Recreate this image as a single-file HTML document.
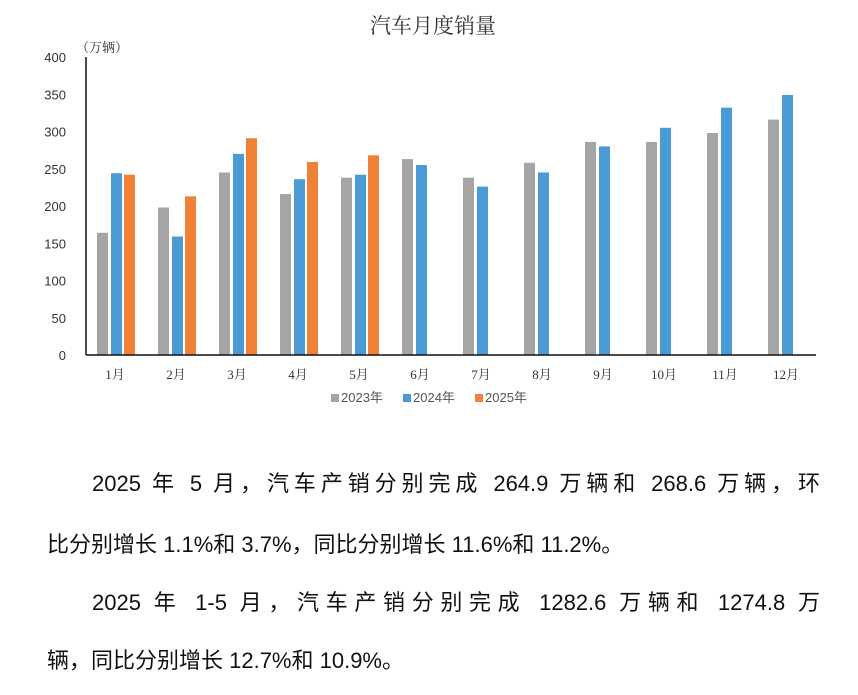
<!DOCTYPE html>
<html><head><meta charset="utf-8">
<style>
body{margin:0;width:858px;height:695px;background:#fff;position:relative;overflow:hidden;font-family:"Liberation Sans","Noto Sans CJK SC",sans-serif;}
.p{position:absolute;font-size:22px;color:#111;white-space:nowrap;}
.j{text-align:justify;text-align-last:justify;white-space:normal;}
</style></head><body>
<svg width="858" height="420" style="position:absolute;left:0;top:0" id="chart">
<text x="433" y="33" text-anchor="middle" font-size="21" font-family="Noto Serif CJK SC, serif" fill="#333">汽车月度销量</text>
<text x="76" y="52" font-size="13" font-family="Noto Serif CJK SC, serif" fill="#333">（万辆）</text>
<g id="yticks"></g><g id="bars"></g><g id="xlabels"></g>
<line x1="86" y1="57" x2="86" y2="355" stroke="#111" stroke-width="1.5"/>
<line x1="86" y1="355" x2="816" y2="355" stroke="#111" stroke-width="1.5"/>
<g font-size="13" fill="#555">
<rect x="331" y="394" width="8" height="8" fill="#a5a5a5"/><text x="341" y="402">2023年</text>
<rect x="403" y="394" width="8" height="8" fill="#4a9ad6"/><text x="413" y="402">2024年</text>
<rect x="475" y="394" width="8" height="8" fill="#f08237"/><text x="485" y="402">2025年</text>
</g>
</svg>
<div class="p j" style="left:92px;top:466px;width:728px">2025 年 5 月，汽车产销分别完成 264.9 万辆和 268.6 万辆，环</div>
<div class="p" style="left:47px;top:527px">比分别增长 1.1%和 3.7%，同比分别增长 11.6%和 11.2%。</div>
<div class="p j" style="left:92px;top:585px;width:728px">2025 年 1-5 月，汽车产销分别完成 1282.6 万辆和 1274.8 万</div>
<div class="p" style="left:47px;top:643px">辆，同比分别增长 12.7%和 10.9%。</div>
<script>
const months=["1月","2月","3月","4月","5月","6月","7月","8月","9月","10月","11月","12月"];
const s2023=[164,198,245,216,238,263,238,258,286,286,298,316];
const s2024=[244,159,270,236,242,255,226,245,280,305,332,349];
const s2025=[242,213,291,259,268];
const yTicks=[0,50,100,150,200,250,300,350,400];
const NS="http://www.w3.org/2000/svg";
const y=v=>355-v*(298/400);
const xc=i=>115+i*61.0;
const yt=document.getElementById('yticks'),bg=document.getElementById('bars'),xl=document.getElementById('xlabels');
yTicks.forEach(t=>{const e=document.createElementNS(NS,'text');


e.setAttribute('x',66);e.setAttribute('y',y(t)+5);e.setAttribute('text-anchor','end');e.setAttribute('font-size','13');e.setAttribute('font-family','Liberation Sans, sans-serif');e.setAttribute('fill','#333');e.textContent=t;yt.appendChild(e);});
function bar(v,i,off,col,name){const r=document.createElementNS(NS,'rect');


r.setAttribute('x',xc(i)+off);r.setAttribute('y',y(v));r.setAttribute('width',11);r.setAttribute('height',355-y(v));r.setAttribute('fill',col);bg.appendChild(r);}
s2023.forEach((v,i)=>bar(v,i,-18,'#a5a5a5','bar-2023'));
s2024.forEach((v,i)=>bar(v,i,-4,'#4a9ad6','bar-2024'));
s2025.forEach((v,i)=>bar(v,i,9,'#f08237','bar-2025'));
months.forEach((m,i)=>{const e=document.createElementNS(NS,'text');


e.setAttribute('x',xc(i));e.setAttribute('y',379);e.setAttribute('text-anchor','middle');e.setAttribute('font-size','13');e.setAttribute('font-family','Liberation Serif, Noto Serif CJK SC, serif');e.setAttribute('fill','#333');e.textContent=m;xl.appendChild(e);});
</script>
</body></html>
